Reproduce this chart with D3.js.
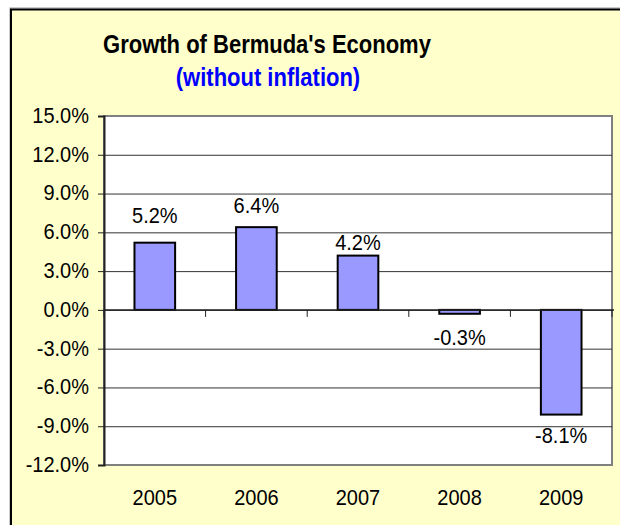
<!DOCTYPE html>
<html>
<head>
<meta charset="utf-8">
<script src="https://cdn.jsdelivr.net/npm/d3@7"></script>
<style>
  body { margin: 0; background: #fff; }
  text {
    font-family: Arial, "Liberation Sans", sans-serif;
    /* the original picture is a little stretched vertically */
    transform-box: fill-box;
    transform-origin: 50% 81%;
    transform: scaleY(1.1);
  }
  text.ttl { transform: scaleY(1.16); }
</style>
</head>
<body>
<div id="main"></div>
<script>
// chart data
const years = ["2005", "2006", "2007", "2008", "2009"];
const growth = [5.2, 6.4, 4.2, -0.3, -8.1];
const valueLabels = ["5.2%", "6.4%", "4.2%", "-0.3%", "-8.1%"];
const yTicks = [-12, -9, -6, -3, 0, 3, 6, 9, 12, 15];

// labels were nudged by hand in the original, baseline offset from bar end (px)
const labelNudge = [-20, -14, -6, 31, 28];

const ctx = {
    w: 620,
    h: 525,
    plot: {left: 104, right: 612, top: 116, bottom: 465},
};

function createViz(){
    let svgEl = d3.select("#main").append("svg")
                  .attr("width", ctx.w)
                  .attr("height", ctx.h);

    // outer chart frame (runs off the right/bottom of the window)
    svgEl.append("rect")
         .attr("x", 10).attr("y", 8)
         .attr("width", 700).attr("height", 600)
         .attr("fill", "none")
         .attr("stroke", "#999");
    svgEl.append("rect")
         .attr("x", 11).attr("y", 9.5)
         .attr("width", 700).attr("height", 600)
         .attr("fill", "#FFFFCC")
         .attr("stroke", "#000")
         .attr("stroke-width", 2);

    // titles
    svgEl.append("text")
         .classed("ttl", true)
         .attr("x", 267).attr("y", 53)
         .attr("text-anchor", "middle")
         .style("font-size", "22px").style("font-weight", "bold")
         .attr("fill", "#000")
         .text("Growth of Bermuda's Economy");
    svgEl.append("text")
         .classed("ttl", true)
         .attr("x", 268).attr("y", 86)
         .attr("text-anchor", "middle")
         .style("font-size", "22px").style("font-weight", "bold")
         .attr("fill", "#0000FF")
         .text("(without inflation)");

    const p = ctx.plot;
    ctx.xScale = d3.scaleBand().domain(years)
                   .range([p.left, p.right])
                   .paddingInner(0.6).paddingOuter(0.3);
    ctx.yScale = d3.scaleLinear().domain([-12, 15])
                   .range([p.bottom, p.top]);

    // plot area
    svgEl.append("rect")
         .attr("x", p.left).attr("y", p.top)
         .attr("width", p.right - p.left).attr("height", p.bottom - p.top)
         .attr("fill", "#fff")
         .attr("stroke", "#808080")
         .attr("stroke-width", 2);

    // gridlines
    svgEl.append("g").selectAll("line")
         .data(yTicks.filter((d) => d > -12 && d < 15))
         .enter().append("line")
         .attr("x1", p.left).attr("x2", p.right)
         .attr("y1", (d) => ctx.yScale(d) + 0.5)
         .attr("y2", (d) => ctx.yScale(d) + 0.5)
         .attr("stroke", "#333")
         .attr("stroke-width", 1);

    // y axis
    let yAx = svgEl.append("g")
         .attr("transform", `translate(${p.left},0)`)
         .call(d3.axisLeft(ctx.yScale).tickValues(yTicks)
                 .tickSize(6).tickPadding(9)
                 .tickFormat((d) => d.toFixed(1) + "%"));
    yAx.select(".domain").attr("stroke", "#222").attr("stroke-width", 2);
    yAx.selectAll(".tick line").attr("stroke", "#222");
    yAx.selectAll("text")
       .style("font-size", "20px")
       .attr("fill", "#000")
       .attr("font-family", null);

    // bars
    svgEl.append("g").selectAll("rect")
         .data(growth)
         .enter().append("rect")
         .attr("x", (d, i) => ctx.xScale(years[i]))
         .attr("y", (d) => ctx.yScale(Math.max(0, d)))
         .attr("width", ctx.xScale.bandwidth())
         .attr("height", (d) => Math.abs(ctx.yScale(d) - ctx.yScale(0)))
         .attr("fill", "#9999FF")
         .attr("stroke", "#000")
         .attr("stroke-width", 2);

    // x axis on the zero line, ticks between categories
    const step = ctx.xScale.step();
    let zeroY = ctx.yScale(0);
    svgEl.append("line")
         .attr("x1", p.left).attr("x2", p.right + 2)
         .attr("y1", zeroY).attr("y2", zeroY)
         .attr("stroke", "#222").attr("stroke-width", 1.5);
    svgEl.append("g").selectAll("line")
         .data(d3.range(years.length + 1))
         .enter().append("line")
         .attr("x1", (i) => p.left + i * step)
         .attr("x2", (i) => p.left + i * step)
         .attr("y1", zeroY).attr("y2", zeroY + 7)
         .attr("stroke", "#222");

    // category labels
    svgEl.append("g").selectAll("text")
         .data(years)
         .enter().append("text")
         .attr("x", (d) => ctx.xScale(d) + ctx.xScale.bandwidth() / 2)
         .attr("y", 505)
         .attr("text-anchor", "middle")
         .style("font-size", "20px")
         .text((d) => d);

    // value labels
    svgEl.append("g").selectAll("text")
         .data(growth)
         .enter().append("text")
         .attr("x", (d, i) => ctx.xScale(years[i]) + ctx.xScale.bandwidth() / 2)
         .attr("y", (d, i) => ctx.yScale(d) + labelNudge[i])
         .attr("text-anchor", "middle")
         .style("font-size", "20px")
         .text((d, i) => valueLabels[i]);
}

createViz();
</script>
</body>
</html>
